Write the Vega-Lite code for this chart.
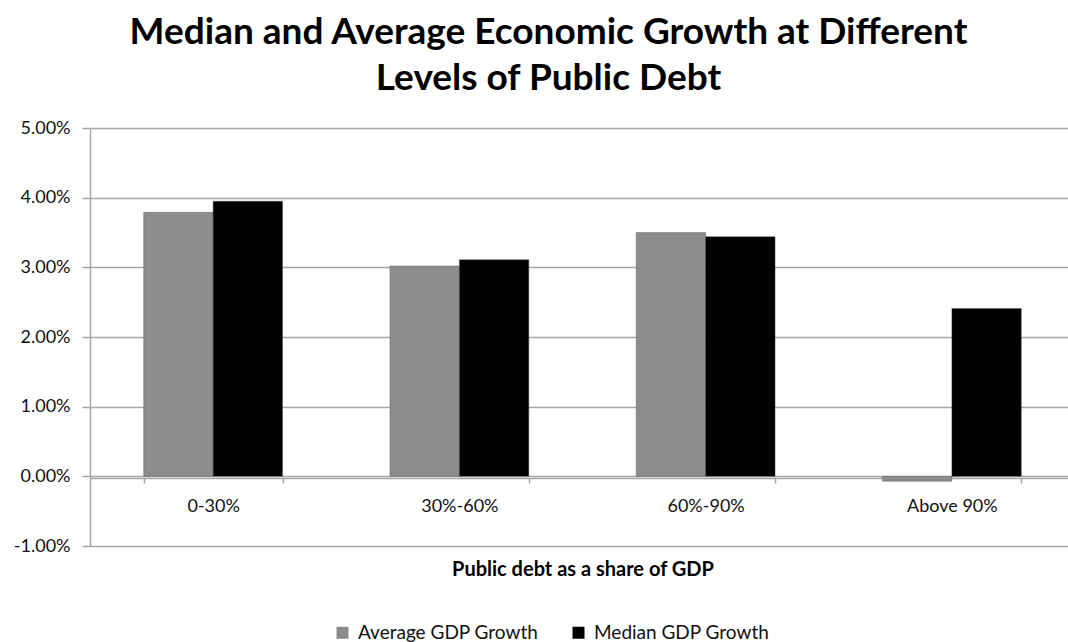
{
  "$schema": "https://vega.github.io/schema/vega-lite/v6.json",
  "autosize": "none",
  "width": 985,
  "height": 418,
  "padding": {"left": 90, "top": 128, "right": 0, "bottom": 96},
  "background": "white",
  "config": {"font": "Lato", "view": {"stroke": null}},
  "title": {
    "text": ["Median and Average Economic Growth at Different", "Levels of Public Debt"],
    "font": "Lato",
    "fontSize": 37,
    "fontWeight": "bold",
    "color": "#000000",
    "anchor": "middle",
    "dx": -34,
    "offset": 21,
    "lineHeight": 46
  },
  "data": {
    "values": [
      {"category": "0-30%", "series": "Average GDP Growth", "growth": 0.0379},
      {"category": "0-30%", "series": "Median GDP Growth", "growth": 0.0395},
      {"category": "30%-60%", "series": "Average GDP Growth", "growth": 0.0302},
      {"category": "30%-60%", "series": "Median GDP Growth", "growth": 0.0311},
      {"category": "60%-90%", "series": "Average GDP Growth", "growth": 0.0350},
      {"category": "60%-90%", "series": "Median GDP Growth", "growth": 0.0344},
      {"category": "Above 90%", "series": "Average GDP Growth", "growth": -0.0007},
      {"category": "Above 90%", "series": "Median GDP Growth", "growth": 0.0241}
    ]
  },
  "mark": {"type": "bar", "strokeWidth": 0.8, "stroke": "#555555", "strokeOpacity": 0.5},
  "encoding": {
    "x": {
      "field": "category",
      "type": "nominal",
      "sort": null,
      "scale": {"paddingInner": 0.436, "paddingOuter": 0.218},
      "axis": {
        "title": "Public debt as a share of GDP",
        "titleFont": "Lato",
        "titleFontSize": 20,
        "titleFontWeight": "bold",
        "titleColor": "#000000",
        "titlePadding": 44,
        "offset": -68,
        "labelAngle": 0,
        "labelFont": "Lato",
        "labelFontSize": 18,
        "labelColor": "#111111",
        "labelPadding": 14,
        "domainColor": "#a6a6a6",
        "domainWidth": 1.5,
        "tickColor": "#a6a6a6",
        "tickWidth": 1.5,
        "tickSize": 5,
        "tickBand": "extent",
        "grid": false
      }
    },
    "xOffset": {"field": "series", "type": "nominal", "sort": null},
    "y": {
      "field": "growth",
      "type": "quantitative",
      "scale": {"domain": [-0.01, 0.05], "nice": false},
      "axis": {
        "title": null,
        "labelExpr": "replace(format(datum.value, '.2%'), '\u2212', '-')",
        "values": [-0.01, 0, 0.01, 0.02, 0.03, 0.04, 0.05],
        "labelFont": "Lato",
        "labelFontSize": 18,
        "labelColor": "#111111",
        "labelPadding": 12,
        "tickSize": 8,
        "tickColor": "#a6a6a6",
        "tickWidth": 1.5,
        "domainColor": "#a6a6a6",
        "domainWidth": 1.5,
        "gridColor": "#a6a6a6",
        "gridWidth": 1.5
      }
    },
    "color": {
      "field": "series",
      "type": "nominal",
      "sort": null,
      "scale": {"domain": ["Average GDP Growth", "Median GDP Growth"], "range": ["#8c8c8c", "#000000"]},
      "legend": {
        "title": null,
        "orient": "none",
        "legendX": 243,
        "legendY": 495,
        "direction": "horizontal",
        "symbolType": "square",
        "symbolSize": 144,
        "symbolStrokeWidth": 0,
        "symbolOpacity": 1,
        "labelFont": "Lato",
        "labelFontSize": 19,
        "labelLimit": 400,
        "labelColor": "#111111",
        "labelOffset": 6,
        "columnPadding": 30
      }
    }
  }
}
